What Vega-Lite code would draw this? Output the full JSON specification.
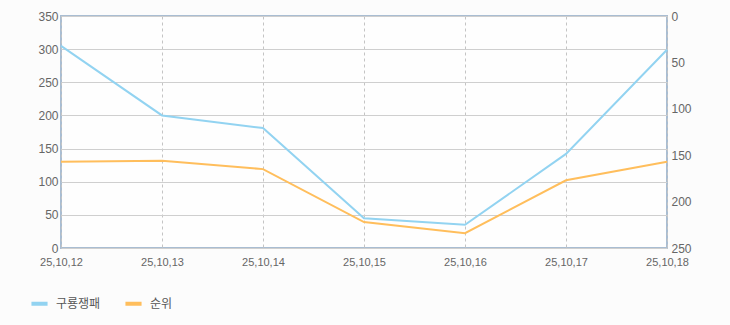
{
  "$schema": "https://vega.github.io/schema/vega-lite/v6.json",
  "width": 606,
  "height": 232,
  "autosize": {"type": "none"},
  "padding": {"left": 61, "top": 16, "right": 63, "bottom": 77},
  "background": "#fcfcfc",
  "view": {"stroke": "#a9bdd2", "strokeWidth": 2, "fill": "#fefefe"},
  "config": {
    "font": "DejaVu Sans",
    "axis": {"labelColor": "#666666", "labelFontSize": 11, "labelFont": "Liberation Sans", "domain": false, "ticks": false, "title": null}
  },
  "data": {
    "values": [
      {"date": "25,10,12", "series": "구룡쟁패", "value": 305},
      {"date": "25,10,13", "series": "구룡쟁패", "value": 200},
      {"date": "25,10,14", "series": "구룡쟁패", "value": 181},
      {"date": "25,10,15", "series": "구룡쟁패", "value": 45},
      {"date": "25,10,16", "series": "구룡쟁패", "value": 35},
      {"date": "25,10,17", "series": "구룡쟁패", "value": 142},
      {"date": "25,10,18", "series": "구룡쟁패", "value": 299},
      {"date": "25,10,12", "series": "순위", "value": 157},
      {"date": "25,10,13", "series": "순위", "value": 156},
      {"date": "25,10,14", "series": "순위", "value": 165},
      {"date": "25,10,15", "series": "순위", "value": 222},
      {"date": "25,10,16", "series": "순위", "value": 234},
      {"date": "25,10,17", "series": "순위", "value": 177},
      {"date": "25,10,18", "series": "순위", "value": 157}
    ]
  },
  "encoding": {
    "x": {
      "field": "date", "type": "ordinal",
      "scale": {"type": "point", "padding": 0},
      "axis": {"labelAngle": 0, "grid": true, "gridDash": [3, 3], "gridColor": "#c4c4c4", "labelPadding": 8}
    },
    "color": {
      "field": "series", "type": "nominal",
      "scale": {"domain": ["구룡쟁패", "순위"], "range": ["#92d3f1", "#ffbe5c"]},
      "legend": {
        "title": null, "orient": "none", "direction": "horizontal",
        "legendX": -32, "legendY": 277,
        "symbolType": "stroke", "symbolStrokeWidth": 4, "symbolSize": 260,
        "labelFont": "Noto Sans CJK KR", "labelFontSize": 12, "labelColor": "#555555",
        "columnPadding": 16, "labelOffset": 6
      }
    }
  },
  "layer": [
    {
      "transform": [{"filter": "datum.series === '구룡쟁패'"}],
      "mark": {"type": "line", "strokeWidth": 2},
      "encoding": {
        "y": {
          "field": "value", "type": "quantitative",
          "scale": {"domain": [0, 350], "nice": false},
          "axis": {"orient": "left", "values": [0, 50, 100, 150, 200, 250, 300, 350], "grid": true, "gridColor": "#cfcfcf", "labelPadding": 3, "labelFontSize": 12}
        }
      }
    },
    {
      "transform": [{"filter": "datum.series === '순위'"}],
      "mark": {"type": "line", "strokeWidth": 2},
      "encoding": {
        "y": {
          "field": "value", "type": "quantitative",
          "scale": {"domain": [0, 250], "nice": false, "reverse": true},
          "axis": {"orient": "right", "values": [0, 50, 100, 150, 200, 250], "grid": false, "labelPadding": 4, "labelFontSize": 12}
        }
      }
    }
  ],
  "resolve": {"scale": {"y": "independent"}}
}
